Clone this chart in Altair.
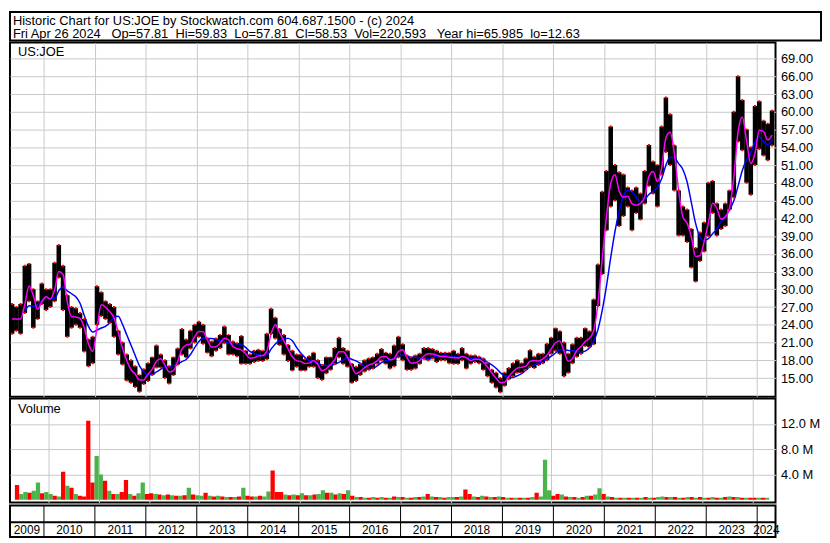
import altair as alt
import pandas as pd

# ---------------- text ----------------
NB = "\u00a0"
HEADER_1 = "Historic Chart for US:JOE by Stockwatch.com 604.687.1500 - (c) 2024"
HEADER_2 = ("Fri Apr 26 2024" + NB * 3 + "Op=57.81" + NB * 2 + "Hi=59.83" + NB * 2 + "Lo=57.81"
            + NB * 2 + "Cl=58.53" + NB * 2 + "Vol=220,593" + NB * 3 + "Year hi=65.985" + NB * 2 + "lo=12.63")
SYMBOL = "US:JOE"
VOL_LABEL = "Volume"

# ---------------- data (monthly, May 2009 .. Apr 2024) ----------------
first_month = "2009-05"
last_month = "2024-04"
x_domain = [2009 + 4 / 12, 2024.36]

low = (
    [22.5, 23.0, 22.5, 26.0, 28.0, 23.5, 25.0, 27.5] +                              # 2009
    [26.5, 27.0, 28.0, 32.0, 26.5, 22.0, 23.5, 24.0, 23.5, 19.5, 17.0, 17.5] +      # 2010
    [24.0, 25.5, 25.0, 24.3, 22.0, 19.0, 17.3, 14.6, 14.2, 13.5, 12.7, 14.0] +      # 2011
    [14.5, 15.5, 16.8, 16.8, 15.0, 14.1, 15.5, 17.3, 19.0, 18.5, 20.0, 21.0] +      # 2012
    [22.0, 20.8, 19.3, 18.7, 19.6, 20.1, 20.9, 19.0, 19.0, 18.7, 17.4, 17.4] +      # 2013
    [17.4, 17.7, 17.9, 17.9, 18.2, 22.5, 21.7, 20.6, 19.0, 17.9, 16.3, 16.9] +      # 2014
    [16.3, 16.3, 16.9, 16.9, 15.0, 14.7, 15.8, 16.4, 17.4, 18.5, 17.4, 16.9] +      # 2015
    [14.2, 14.5, 15.5, 16.1, 16.4, 16.6, 17.4, 18.0, 17.4, 16.6, 17.0, 18.5] +      # 2016
    [18.0, 16.4, 16.4, 16.6, 17.4, 18.3, 18.0, 18.3, 17.7, 18.0, 18.0, 17.5] +      # 2017
    [17.4, 17.4, 18.0, 16.6, 17.4, 17.7, 17.5, 16.4, 15.3, 14.2, 13.4, 12.6] +      # 2018
    [13.7, 14.8, 15.3, 15.9, 15.9, 16.4, 16.9, 16.7, 17.2, 17.5, 18.0, 19.1] +      # 2019
    [19.6, 19.1, 15.3, 15.9, 17.5, 18.6, 19.1, 20.4, 20.2, 20.7, 27.2, 32.6] +      # 2020
    [40.0, 44.0, 45.0, 40.7, 42.4, 44.0, 40.0, 42.9, 41.8, 44.5, 47.5, 46.2] +      # 2021
    [44.0, 49.4, 53.2, 51.0, 46.7, 39.1, 39.1, 38.0, 33.7, 31.3, 34.8, 36.4] +      # 2022
    [39.0, 42.9, 39.1, 40.2, 40.7, 43.5, 45.5, 55.0, 53.5, 48.0, 46.0, 51.0] +      # 2023
    [53.7, 52.6, 51.8, 54.3]                                                        # 2024
)
high = (
    [27.5, 27.0, 27.5, 34.0, 34.3, 30.0, 28.0, 31.0] +
    [30.0, 30.0, 34.5, 37.5, 34.0, 29.0, 27.0, 26.8, 26.0, 25.0, 21.5, 22.0] +
    [30.5, 29.5, 28.0, 27.5, 27.0, 23.0, 21.0, 19.0, 18.0, 17.0, 15.5, 16.5] +
    [17.5, 18.5, 20.5, 19.0, 18.0, 17.0, 18.5, 20.0, 23.3, 21.5, 23.0, 24.0] +
    [24.5, 24.0, 21.7, 21.2, 21.7, 22.3, 23.7, 22.3, 21.2, 20.9, 22.1, 19.6] +
    [19.0, 19.6, 19.8, 19.6, 22.5, 26.7, 25.2, 23.3, 22.3, 20.6, 19.6, 19.0] +
    [19.0, 18.2, 18.7, 19.3, 18.0, 17.2, 18.5, 18.5, 20.1, 21.8, 20.1, 19.6] +
    [17.4, 16.9, 17.4, 18.0, 18.3, 18.5, 19.1, 19.9, 19.3, 19.1, 20.5, 22.0] +
    [20.7, 18.8, 18.5, 18.8, 19.1, 20.1, 20.1, 19.9, 19.6, 19.3, 19.3, 19.3] +
    [19.6, 19.1, 20.1, 19.1, 18.8, 18.8, 18.6, 18.3, 17.5, 16.4, 15.9, 15.0] +
    [15.9, 16.7, 17.5, 18.0, 17.5, 18.3, 19.7, 18.6, 19.1, 19.1, 20.8, 21.8] +
    [23.4, 22.9, 21.0, 19.1, 20.7, 21.8, 21.8, 23.4, 22.9, 28.3, 34.2, 46.5] +
    [50.0, 57.5, 51.0, 49.8, 49.4, 47.2, 46.7, 47.2, 46.2, 50.0, 54.4, 51.6] +
    [51.0, 57.5, 62.4, 59.6, 54.3, 46.7, 44.0, 43.5, 40.2, 37.0, 39.6, 41.3] +
    [48.0, 48.3, 44.5, 43.5, 44.5, 46.7, 60.0, 66.0, 62.0, 57.0, 54.0, 61.0] +
    [61.8, 58.5, 58.0, 60.2]
)
volume_m = (
    [2.3, 0.9, 1.2, 1.1, 1.4, 2.7, 1.0, 1.2] +
    [0.9, 0.6, 0.5, 4.4, 2.2, 1.9, 0.9, 0.6, 0.5, 12.5, 2.7, 6.9] +
    [4.0, 3.0, 1.4, 0.9, 0.9, 1.2, 3.1, 0.9, 0.6, 1.0, 2.7, 0.9] +
    [1.0, 0.9, 0.8, 0.7, 0.8, 0.7, 0.6, 0.6, 0.7, 1.9, 0.8, 0.7] +
    [0.6, 1.1, 0.6, 0.5, 0.6, 0.5, 0.4, 0.4, 0.4, 0.5, 1.9, 0.6] +
    [0.5, 0.5, 0.6, 0.5, 1.3, 4.6, 1.2, 1.2, 0.8, 0.7, 0.8, 0.7] +
    [1.0, 0.7, 0.7, 0.8, 0.9, 1.5, 1.1, 1.1, 0.8, 1.0, 0.9, 1.5] +
    [0.6, 0.4, 0.4, 0.3, 0.3, 0.4, 0.3, 0.4, 0.3, 0.3, 0.5, 0.4] +
    [0.4, 0.3, 0.3, 0.4, 0.4, 0.5, 0.9, 0.5, 0.4, 0.4, 0.3, 0.4] +
    [0.4, 0.4, 0.5, 1.6, 0.9, 0.5, 0.4, 0.6, 0.5, 0.4, 0.4, 0.5] +
    [0.4, 0.3, 0.3, 0.3, 0.3, 0.3, 0.3, 0.4, 1.1, 0.5, 6.3, 1.5] +
    [0.6, 0.9, 0.8, 0.5, 0.4, 0.4, 0.3, 0.4, 0.6, 0.6, 0.8, 1.8] +
    [0.9, 0.5, 0.4, 0.3, 0.3, 0.3, 0.3, 0.3, 0.3, 0.3, 0.4, 0.3] +
    [0.3, 0.4, 0.5, 0.4, 0.4, 0.4, 0.3, 0.3, 0.4, 0.4, 0.3, 0.4] +
    [0.3, 0.3, 0.4, 0.3, 0.3, 0.4, 0.5, 0.4, 0.4, 0.3, 0.3, 0.3] +
    [0.3, 0.3, 0.3, 0.3]
)
# g = up (green), r = down (red), one letter per month
volume_colour = (
    "rggrggrg" + "grgrgrgrrrrg" + "grgrgrrgrggr" + "rgrgrgrgrgrg" + "grgrgrgrgrgr" +
    "rgrggrrrgrgr" + "grgrggrgrgrg" + "rgrgrgrgrgrg" + "rgrgrgrgrgrg" + "grgrrgrgrgrg" +
    "rgrgrgrgrggg" + "rrgrgrgrgrgg" + "rgrgrgrgrgrg" + "rggrgrgrgrgr" + "grgrgrgrgrgr" + "rgrg"
)

price_ticks = list(range(15, 70, 3))
volume_ticks = [4, 8, 12]
year_marks = list(range(2010, 2025))
year_labels = [str(y) for y in range(2009, 2025)]

# ---------------- tables ----------------
months = pd.period_range(first_month, last_month, freq="M")
df = pd.DataFrame({
    "t": [p.year + (p.month - 0.5) / 12 for p in months],
    "high": high,
    "low": low,
    "vol": volume_m,
    "dir": ["up" if c == "g" else "down" for c in volume_colour],
})
df["mid"] = (df["high"] + df["low"]) / 2
df["ma_fast"] = df["mid"].rolling(2, min_periods=1).mean()
df["ma_slow"] = df["mid"].rolling(6, min_periods=1).mean()
slow_df = df.iloc[3:].reset_index(drop=True)

starts = [x_domain[0]] + year_marks
ends = year_marks + [x_domain[1]]
years_df = pd.DataFrame({"label": year_labels, "mid": [(s + e) / 2 for s, e in zip(starts, ends)]})

# ---------------- layout / style ----------------
W = 774
H_HEAD = 29
H_PRICE = 358
H_VOL = 105
H_YEARS = 32
GRID = "#c8c8c8"
FONT = "Liberation Sans"

xs = alt.Scale(domain=x_domain, nice=False, zero=False)
x_grid_axis = alt.Axis(values=year_marks, grid=True, gridColor=GRID, gridWidth=1, labels=False,
                       ticks=False, domain=False, title=None, minExtent=0, maxExtent=0)

price_scale = alt.Scale(domain=[11.86, 71.7], nice=False, zero=False)
price_axis = alt.Axis(orient="right", values=price_ticks, format=".2f", grid=True, gridColor=GRID,
                      ticks=False, domain=False, title=None, labelFont=FONT, labelFontSize=13,
                      labelColor="#000000", labelPadding=5, labelOverlap=False, labelFlush=False)

vol_scale = alt.Scale(domain=[-0.45, 16.0], nice=False, zero=False)
vol_axis = alt.Axis(orient="right", values=volume_ticks, labelExpr="format(datum.value, '.1f') + ' M'",
                    grid=True, gridColor=GRID, ticks=False, domain=False, title=None, labelFont=FONT,
                    labelFontSize=13, labelColor="#000000", labelPadding=5, labelOverlap=False,
                    labelFlush=False)

base = alt.Chart(df)
X = alt.X("t:Q", scale=xs, axis=x_grid_axis)


def PY(field):
    return alt.Y(field, scale=price_scale, axis=price_axis)


# header
hdr = alt.layer(
    alt.Chart(pd.DataFrame({"s": [HEADER_1]})).mark_text(
        align="left", baseline="alphabetic", font=FONT, fontSize=13, color="black"
    ).encode(text="s:N", x=alt.value(3), y=alt.value(13)),
    alt.Chart(pd.DataFrame({"s": [HEADER_2]})).mark_text(
        align="left", baseline="alphabetic", font=FONT, fontSize=13, color="black"
    ).encode(text="s:N", x=alt.value(3), y=alt.value(26)),
).properties(width=W + 46, height=H_HEAD)

# price panel
bars = base.mark_rule(color="black", strokeWidth=4.6, clip=True).encode(x=X, y=PY("low:Q"), y2="high:Q")
red_hi = base.mark_point(shape="square", filled=True, size=4, color="#ff0000", opacity=1, clip=True).encode(
    x=X, y=PY("high:Q"))
red_lo = base.mark_point(shape="square", filled=True, size=4, color="#ff0000", opacity=1, clip=True).encode(
    x=X, y=PY("low:Q"))
ma_fast = base.mark_line(color="#ff00ff", strokeWidth=1.5, interpolate="monotone", clip=True).encode(
    x=X, y=PY("ma_fast:Q"))
ma_slow = alt.Chart(slow_df).mark_line(color="#0000ff", strokeWidth=1.5, interpolate="monotone", clip=True).encode(
    x=X, y=PY("ma_slow:Q"))
sym = alt.Chart(pd.DataFrame({"s": [SYMBOL]})).mark_text(
    align="left", baseline="alphabetic", font=FONT, fontSize=13, color="black"
).encode(text="s:N", x=alt.value(8), y=alt.value(14))
price = alt.layer(bars, ma_slow, ma_fast, red_hi, red_lo, sym).properties(width=W, height=H_PRICE)

# volume panel
vbars = base.mark_bar(size=4.3, clip=True).encode(
    x=X,
    y=alt.Y("vol:Q", scale=vol_scale, axis=vol_axis),
    y2=alt.value(H_VOL),
    color=alt.Color("dir:N", scale=alt.Scale(domain=["up", "down"], range=["#4cb34c", "#ff0000"]), legend=None),
)
vlab = alt.Chart(pd.DataFrame({"s": [VOL_LABEL]})).mark_text(
    align="left", baseline="alphabetic", font=FONT, fontSize=13, color="black"
).encode(text="s:N", x=alt.value(8), y=alt.value(15))
vol = alt.layer(vbars, vlab).properties(width=W, height=H_VOL)

# year strip
yr_bounds = alt.Chart(pd.DataFrame({"t": year_marks})).mark_rule(color="black", strokeWidth=1).encode(
    x=alt.X("t:Q", scale=xs, axis=None), y=alt.value(0), y2=alt.value(H_YEARS))
yr_sep = alt.Chart(pd.DataFrame({"k": [0]})).mark_rule(color="black", strokeWidth=2).encode(
    x=alt.value(0), x2=alt.value(W), y=alt.value(17))
yr_text = alt.Chart(years_df).mark_text(font=FONT, fontSize=12, baseline="middle", color="black").encode(
    x=alt.X("mid:Q", scale=xs, axis=None), y=alt.value(25), text="label:N")
years = alt.layer(yr_bounds, yr_sep, yr_text).properties(width=W, height=H_YEARS)

chart = alt.vconcat(hdr, price, vol, years, spacing=0).properties(padding=0).configure_view(
    stroke="black", strokeWidth=2
).configure_axis(labelOverlap=False)

chart.save("out.html", embed_options={"renderer": "svg", "actions": False})
